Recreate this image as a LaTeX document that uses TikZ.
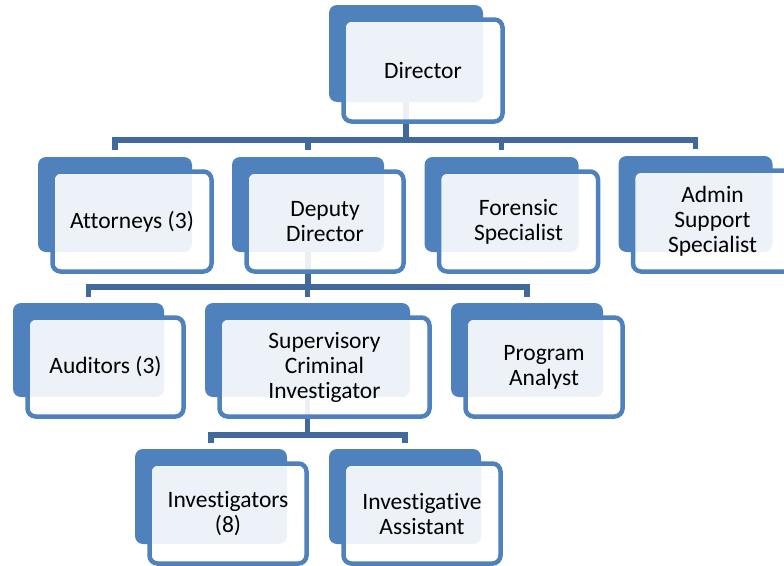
\documentclass[tikz,border=0pt]{standalone}
\usepackage{fontspec}
\setmainfont{Carlito}[Ligatures=NoCommon]
\usetikzlibrary{backgrounds}
\definecolor{boxblue}{HTML}{4F81BD}
\definecolor{linkblue}{HTML}{41699B}
\newcommand\orgunit[6]{%
  \node[backbox, minimum width=#4pt, minimum height=#5pt] (#1B) at (#2,#3) {};
  \node[frontbox, minimum width=#4pt+5pt, minimum height=#5pt+5pt] (#1) at (#2+17,#3+17) {#6};
}
\begin{document}
\begin{tikzpicture}[x=1pt,y=-1pt,
  backbox/.style={rectangle, rounded corners=8pt, fill=boxblue, inner sep=0pt},
  frontbox/.style={rectangle, rounded corners=8pt, draw=boxblue, line width=4.5pt,
    fill=white, fill opacity=0.9, text opacity=1, inner sep=0pt, align=center,
    font=\fontsize{23.5}{25}\selectfont},
  conn/.style={draw=linkblue, line width=5.5pt}]
\useasboundingbox (0,0) rectangle (784,565);

\orgunit{dir}{406}{53.5}{154}{97}{Director}
\orgunit{att}{115}{204.5}{154}{95}{Attorneys (3)}
\orgunit{dep}{308}{204.5}{152}{95}{Deputy\\Director}
\orgunit{for}{501.5}{204.5}{154}{95}{Forensic\\Specialist}
\orgunit{adm}{695.5}{204}{154}{96}{Admin\\Support\\Specialist}
\orgunit{aud}{88.5}{350}{151}{94}{Auditors (3)}
\orgunit{sup}{307.5}{350}{205}{94}{Supervisory\\Criminal\\Investigator}
\orgunit{prg}{527}{350}{152}{94}{Program\\Analyst}
\orgunit{inv}{211}{496.5}{152}{95}{Investigators\\(8)}
\orgunit{ias}{405}{496.5}{152}{95}{Investigative\\Assistant}

\coordinate (bus1) at (0,140);
\coordinate (bus2) at (0,287);
\coordinate (bus3) at (0,435);

\begin{scope}[on background layer]
\draw[conn] (dirB.center) -- (dirB.center |- bus1);
\draw[conn] ([yshift=7pt]attB.north) -- (attB.north |- bus1) -- (admB.north |- bus1) -- ([yshift=7pt]admB.north);
\draw[conn] (bus1 -| depB.north) -- ([yshift=7pt]depB.north);
\draw[conn] (bus1 -| forB.north) -- ([yshift=7pt]forB.north);

\draw[conn] (depB.center) -- (depB.center |- bus2);
\draw[conn] ([yshift=6pt]audB.north) -- (audB.north |- bus2) -- (prgB.north |- bus2) -- ([yshift=6pt]prgB.north);
\draw[conn] (bus2 -| supB.north) -- ([yshift=6pt]supB.north);

\draw[conn] (supB.center) -- (supB.center |- bus3);
\draw[conn] ([yshift=6pt]invB.north) -- (invB.north |- bus3) -- (iasB.north |- bus3) -- ([yshift=6pt]iasB.north);
\end{scope}
\end{tikzpicture}
\end{document}
